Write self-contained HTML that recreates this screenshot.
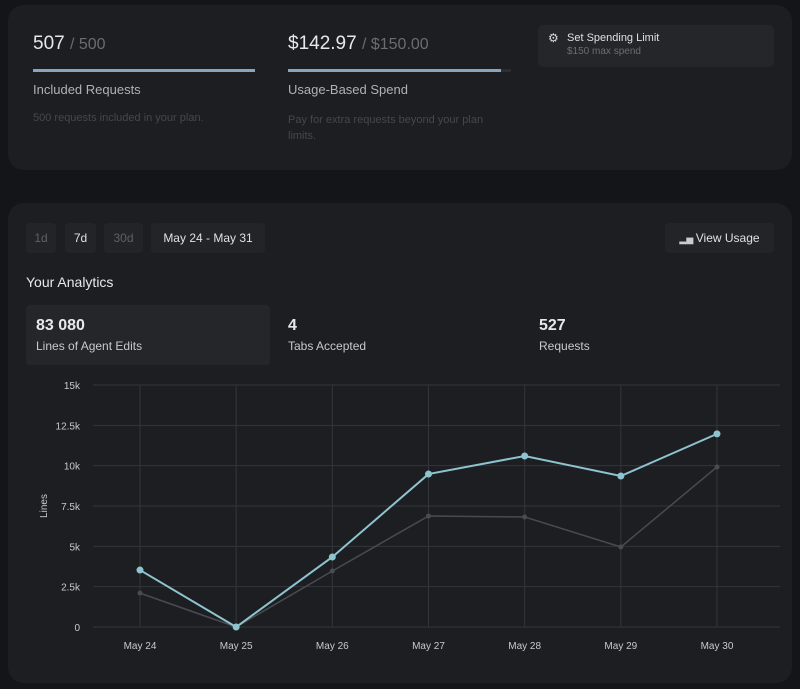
<!DOCTYPE html>
<html><head><meta charset="utf-8">
<style>
body{margin:0;width:800px;height:689px;background:#141518;font-family:"Liberation Sans",sans-serif;position:relative;overflow:hidden;color:#e8e8ea}
.card{position:absolute;left:8px;width:784px;background:#1d1e22;border-radius:16px}
.abs{position:absolute}
.btn{position:absolute;top:223px;height:30px;background:#232428;border-radius:4px;font-size:12px;line-height:30px;text-align:center}
</style></head><body>
<div class="card" style="top:5px;height:165px"></div>
<div class="abs" style="left:33px;top:33px;font-size:19px">507 <span style="color:#6b6c72;font-size:16px">/ 500</span></div>
<div class="abs" style="left:33px;top:69px;width:222px;height:3px;background:#8aa4bf"></div>
<div class="abs" style="left:33px;top:82px;font-size:13px;color:#b0b1b6">Included Requests</div>
<div class="abs" style="left:33px;top:112px;font-size:11px;color:#46474c">500 requests included in your plan.</div>
<div class="abs" style="left:288px;top:33px;font-size:19px">$142.97 <span style="color:#6b6c72;font-size:16px">/ $150.00</span></div>
<div class="abs" style="left:288px;top:69px;width:223px;height:3px;background:#2c2e34"></div>
<div class="abs" style="left:288px;top:69px;width:213px;height:3px;background:#8aa4bf"></div>
<div class="abs" style="left:288px;top:82px;font-size:13px;color:#b0b1b6">Usage-Based Spend</div>
<div class="abs" style="left:288px;top:112px;font-size:11px;line-height:16px;color:#46474c;width:215px">Pay for extra requests beyond your plan limits.</div>
<div class="abs" style="left:538px;top:25px;width:236px;height:42px;background:#25262a;border-radius:5px">
<div class="abs" style="left:10px;top:6px;font-size:12px;color:#ddd">⚙</div>
<div class="abs" style="left:29px;top:7px;font-size:11px;color:#e0e0e2">Set Spending Limit</div>
<div class="abs" style="left:29px;top:21px;font-size:10px;color:#6b6c72">$150 max spend</div></div>

<div class="card" style="top:203px;height:480px"></div>
<div class="btn" style="left:26px;width:30px;color:#5f6066">1d</div>
<div class="btn" style="left:65px;width:31px;color:#e0e0e2">7d</div>
<div class="btn" style="left:104px;width:39px;color:#5f6066">30d</div>
<div class="btn" style="left:151px;width:114px;color:#e0e0e2">May 24 - May 31</div>
<div class="btn" style="left:665px;width:109px;color:#e0e0e2"><span style="font-size:9px;color:#ccc">▂▅ </span>View Usage</div>
<div class="abs" style="left:26px;top:274px;font-size:14px">Your Analytics</div>
<div class="abs" style="left:26px;top:305px;width:244px;height:60px;background:#25262a;border-radius:4px"></div>
<div class="abs" style="left:36px;top:317px;font-size:16px;font-weight:bold">83 080</div>
<div class="abs" style="left:36px;top:339px;font-size:12px;color:#c8c9cd">Lines of Agent Edits</div>
<div class="abs" style="left:288px;top:317px;font-size:16px;font-weight:bold">4</div>
<div class="abs" style="left:288px;top:339px;font-size:12px;color:#c8c9cd">Tabs Accepted</div>
<div class="abs" style="left:539px;top:317px;font-size:16px;font-weight:bold">527</div>
<div class="abs" style="left:539px;top:339px;font-size:12px;color:#c8c9cd">Requests</div>

<svg id="chart" class="abs" style="left:0;top:0" width="800" height="689"></svg>
<script>
const categories=["May 24","May 25","May 26","May 27","May 28","May 29","May 30"];
const seriesA=[3530,0,4340,9480,10600,9360,11970];
const seriesB=[2100,0,3470,6880,6820,4960,9920];
const yTicks=[0,2500,5000,7500,10000,12500,15000];
const yTickLabels=["0","2.5k","5k","7.5k","10k","12.5k","15k"];
const svg=document.getElementById('chart');const NS='http://www.w3.org/2000/svg';
const x0=140,x1=717,y0=627,y1=385,left=93,right=780;
const xs=i=>x0+(x1-x0)*i/(categories.length-1);
const ys=v=>y0-(y0-y1)*v/15000;
function mk(t,a){const e=document.createElementNS(NS,t);for(const k in a)e.setAttribute(k,a[k]);svg.appendChild(e);return e;}
yTicks.forEach((v,i)=>{
const l=mk('line',{x1:left,x2:right,y1:ys(v),y2:ys(v),stroke:'#34353a','stroke-width':1});


const t=mk('text',{x:80,y:ys(v)+4,'text-anchor':'end','font-size':10,fill:'#c8c9cd'});t.textContent=yTickLabels[i];


});
categories.forEach((c,i)=>{
const l=mk('line',{x1:xs(i),x2:xs(i),y1:y1,y2:y0,stroke:'#34353a','stroke-width':1});


const t=mk('text',{x:xs(i),y:649,'text-anchor':'middle','font-size':10,fill:'#c8c9cd'});t.textContent=c;


});
const yt=mk('text',{x:0,y:0,transform:'translate(47,506) rotate(-90)','text-anchor':'middle','font-size':10,fill:'#c8c9cd'});yt.textContent='Lines';


function series(d,col,w,r,name){
const p=mk('polyline',{points:d.map((v,i)=>xs(i)+','+ys(v)).join(' '),fill:'none',stroke:col,'stroke-width':w});


d.forEach((v,i)=>{const c=mk('circle',{cx:xs(i),cy:ys(v),r:r,fill:col});

});
}
series(seriesB,'#4a4b52',1.5,2.5,'secondary-series');
series(seriesA,'#8ec3cf',2,3.5,'agent-edits-series');
</script>
</body></html>
